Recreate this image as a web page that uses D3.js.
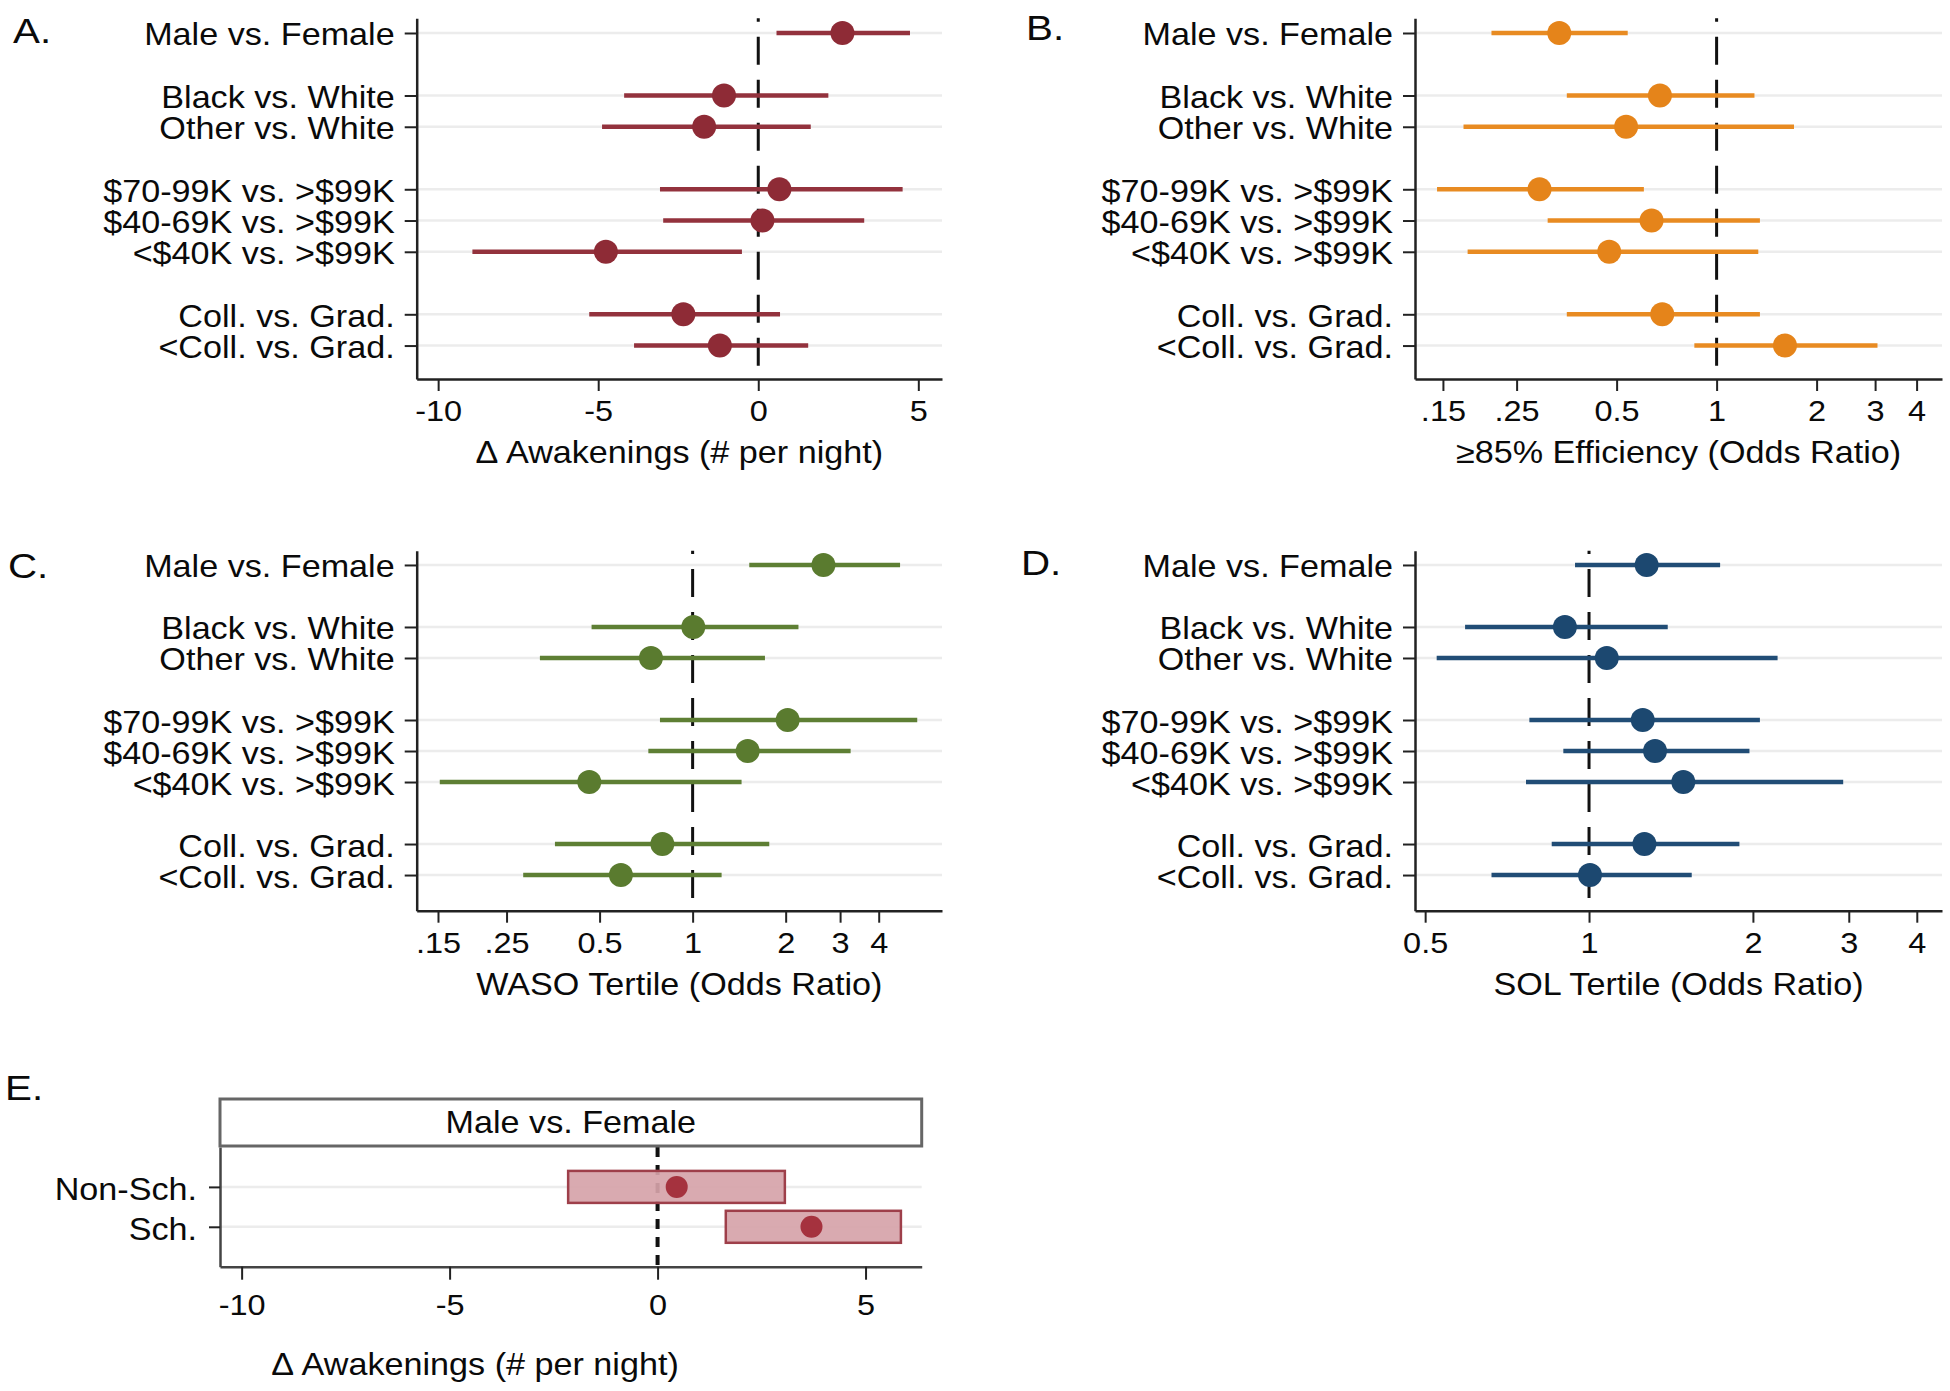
<!DOCTYPE html>
<html><head><meta charset="utf-8">
<script src="https://cdn.jsdelivr.net/npm/d3@7"></script>
<style>
body{margin:0;background:#fff}
svg{display:block;background:#fff}
text{font-family:"Liberation Sans",Arial,Helvetica,sans-serif;fill:#0a0a0a}
</style>
</head><body>
<svg id="c" width="1950" height="1391"></svg>
<script>
// ---------- data ----------
const categories = ["Male vs. Female","Black vs. White","Other vs. White",
  "$70-99K vs. >$99K","$40-69K vs. >$99K","<$40K vs. >$99K",
  "Coll. vs. Grad.","<Coll. vs. Grad."];
const groupIndex = [0,1,1,2,2,2,3,3];

const awakeEst = [2.63,-1.07,-1.69,0.66,0.13,-4.76,-2.34,-1.20];
const awakeLo  = [0.57,-4.19,-4.88,-3.07,-2.97,-8.93,-5.28,-3.88];
const awakeHi  = [4.74,2.19,1.64,4.51,3.31,-0.51,0.68,1.56];

const effEst = [0.336,0.675,0.534,0.293,0.637,0.475,0.686,1.606];
const effLo  = [0.210,0.354,0.173,0.144,0.310,0.178,0.354,0.857];
const effHi  = [0.540,1.30,1.71,0.604,1.35,1.335,1.35,3.05];

const wasoEst = [2.65,1.005,0.733,2.03,1.507,0.463,0.798,0.586];
const wasoLo  = [1.525,0.471,0.3205,0.784,0.719,0.152,0.3585,0.283];
const wasoHi  = [4.69,2.20,1.714,5.33,3.245,1.44,1.77,1.241];

const solEst = [1.276,0.903,1.078,1.255,1.322,1.49,1.264,1.004];
const solLo  = [0.9425,0.592,0.525,0.777,0.897,0.766,0.854,0.662];
const solHi  = [1.741,1.395,2.22,2.06,1.971,2.93,1.889,1.544];

const schCategories = ["Non-Sch.","Sch."];
const schEst = [0.46,3.70];
const schLo  = [-2.15,1.64];
const schHi  = [3.06,5.85];

const linTicks = [-10,-5,0,5];
const linTickLabels = ["-10","-5","0","5"];
const orTicksWide = [0.15,0.25,0.5,1,2,3,4];
const orTickLabelsWide = [".15",".25","0.5","1","2","3","4"];
const orTicksNarrow = [0.5,1,2,3,4];
const orTickLabelsNarrow = ["0.5","1","2","3","4"];

// ---------- drawing ----------
const svg = d3.select("#c");
const SX = 1.12;
const positions = categories.map((d,i)=> i + groupIndex[i]);

function label(g, x, y, s, size, anchor){
  return g.append("text")
    .attr("transform", `translate(${x},${y}) scale(${SX},1)`)
    .attr("text-anchor", anchor).attr("font-size", size).text(s);
}

function panel(o){
  const g = svg.append("g");
  const x = o.x, y = o.y;
  const [x0,x1] = x.range(), [y0,y1] = y.range();
  const rows = categories.map((c,i)=>({c, p:positions[i], est:o.est[i], lo:o.lo[i], hi:o.hi[i]}));

  g.selectAll("line.grid").data(rows).join("line").attr("class","grid")
    .attr("x1",x0).attr("x2",x1).attr("y1",d=>y(d.p)).attr("y2",d=>y(d.p))
    .attr("stroke","#ececec").attr("stroke-width",2.5);

  g.append("line").attr("x1",x(o.ref)).attr("x2",x(o.ref)).attr("y1",y0).attr("y2",y1)
    .attr("stroke","#111").attr("stroke-width",3)
    .attr("stroke-dasharray","28,15").attr("stroke-dashoffset",24.6);

  g.selectAll("line.ci").data(rows).join("line").attr("class","ci")
    .attr("x1",d=>x(d.lo)).attr("x2",d=>x(d.hi)).attr("y1",d=>y(d.p)).attr("y2",d=>y(d.p))
    .attr("stroke",o.line).attr("stroke-width",4.5);

  g.selectAll("circle").data(rows).join("circle")
    .attr("cx",d=>x(d.est)).attr("cy",d=>y(d.p)).attr("r",12).attr("fill",o.color);

  const xa = g.append("g").attr("transform",`translate(0,${y1})`)
    .call(d3.axisBottom(x).tickValues(o.ticks).tickFormat((d,i)=>o.tickLabels[i]).tickSize(12).tickSizeOuter(0));
  const ya = g.append("g").attr("transform",`translate(${x0},0)`)
    .call(d3.axisLeft(y).tickValues(positions).tickFormat((d,i)=>categories[i]).tickSize(12).tickSizeOuter(0));
  [xa,ya].forEach(a=>{
    a.select(".domain").attr("stroke","#222").attr("stroke-width",2.5);
    a.selectAll(".tick line").attr("stroke","#222").attr("stroke-width",2);
  });
  xa.selectAll(".tick text").attr("font-size",29).attr("y",42).attr("dy",null)
    .attr("transform",`scale(${SX},1)`).attr("fill","#0a0a0a");
  ya.selectAll(".tick text").attr("font-size",30.5).attr("x",-22/SX).attr("y",12).attr("dy",null)
    .attr("transform",`scale(${SX},1)`).attr("fill","#0a0a0a");
  ya.attr("font-family",null); xa.attr("font-family",null);

  label(g,(x0+x1)/2, y1+84, o.title, 30.5, "middle");
  label(g,o.letterX,o.letterY,o.letter,36,"start");
}

panel({
  x: d3.scaleLinear().domain([-10.67,5.74]).range([416.7,942]),
  y: d3.scaleLinear().domain([-0.47,11.07]).range([18.3,379]),
  est:awakeEst, lo:awakeLo, hi:awakeHi, ref:0,
  color:"#8e2b36", line:"#93323d",
  ticks:linTicks, tickLabels:linTickLabels,
  title:"\u0394 Awakenings (# per night)", letter:"A.", letterX:13, letterY:43
});
panel({
  x: d3.scaleLog().domain([0.1236,4.77]).range([1415,1942]),
  y: d3.scaleLinear().domain([-0.47,11.07]).range([18.3,379]),
  est:effEst, lo:effLo, hi:effHi, ref:1,
  color:"#e5841a", line:"#e88b22",
  ticks:orTicksWide, tickLabels:orTickLabelsWide,
  title:"\u226585% Efficiency (Odds Ratio)", letter:"B.", letterX:1026, letterY:40
});
panel({
  x: d3.scaleLog().domain([0.128,6.41]).range([416.7,942]),
  y: d3.scaleLinear().domain([-0.46,11.15]).range([550.7,910.7]),
  est:wasoEst, lo:wasoLo, hi:wasoHi, ref:1,
  color:"#5a7b2f", line:"#5e7f34",
  ticks:orTicksWide, tickLabels:orTickLabelsWide,
  title:"WASO Tertile (Odds Ratio)", letter:"C.", letterX:8, letterY:578
});
panel({
  x: d3.scaleLog().domain([0.479,4.45]).range([1415,1942]),
  y: d3.scaleLinear().domain([-0.46,11.15]).range([550.7,910.7]),
  est:solEst, lo:solLo, hi:solHi, ref:1,
  color:"#1c4870", line:"#214d76",
  ticks:orTicksNarrow, tickLabels:orTickLabelsNarrow,
  title:"SOL Tertile (Odds Ratio)", letter:"D.", letterX:1021, letterY:575
});

// ---------- panel E ----------
(function(){
  const g = svg.append("g");
  const x = d3.scaleLinear().domain([-10.52,6.35]).range([220,921.7]);
  const y = d3.scaleLinear().domain([0,3]).range([1147,1266.7]);
  const [x0,x1] = x.range(), [y0,y1] = y.range();
  const rows = schCategories.map((c,i)=>({c, p:i+1, est:schEst[i], lo:schLo[i], hi:schHi[i]}));

  g.selectAll("line.grid").data(rows).join("line")
    .attr("x1",x0).attr("x2",x1).attr("y1",d=>y(d.p)).attr("y2",d=>y(d.p))
    .attr("stroke","#ececec").attr("stroke-width",2.5);

  g.append("line").attr("x1",x(0)).attr("x2",x(0)).attr("y1",y0).attr("y2",y1)
    .attr("stroke","#111").attr("stroke-width",4).attr("stroke-dasharray","10,8");

  g.selectAll("rect.ci").data(rows).join("rect")
    .attr("x",d=>x(d.lo)).attr("width",d=>x(d.hi)-x(d.lo))
    .attr("y",d=>y(d.p)-16).attr("height",32)
    .attr("fill","#d6a3a9").attr("fill-opacity",0.92).attr("stroke","#9e3f4a").attr("stroke-width",2.5);

  g.selectAll("circle").data(rows).join("circle")
    .attr("cx",d=>x(d.est)).attr("cy",d=>y(d.p)).attr("r",11).attr("fill","#a5323e");

  const xa = g.append("g").attr("transform",`translate(0,${y1})`)
    .call(d3.axisBottom(x).tickValues(linTicks).tickFormat((d,i)=>linTickLabels[i]).tickSize(13).tickSizeOuter(0));
  const ya = g.append("g").attr("transform",`translate(${x0},0)`)
    .call(d3.axisLeft(y).tickValues(rows.map(d=>d.p)).tickFormat((d,i)=>schCategories[i]).tickSize(11).tickSizeOuter(0));
  [xa,ya].forEach(a=>{
    a.select(".domain").attr("stroke","#444").attr("stroke-width",2.5);
    a.selectAll(".tick line").attr("stroke","#222").attr("stroke-width",2);
  });
  xa.selectAll(".tick text").attr("font-size",29).attr("y",48).attr("dy",null)
    .attr("transform",`scale(${SX},1)`).attr("fill","#0a0a0a");
  ya.selectAll(".tick text").attr("font-size",30.5).attr("x",-23/SX).attr("y",12.5).attr("dy",null)
    .attr("transform",`scale(${SX},1)`).attr("fill","#0a0a0a");

  // strip header
  g.append("rect").attr("x",x0).attr("y",1099).attr("width",x1-x0).attr("height",47)
    .attr("fill","#fff").attr("stroke","#666").attr("stroke-width",3);
  label(g,(x0+x1)/2,1133,"Male vs. Female",30.5,"middle");

  label(g,475,1375,"\u0394 Awakenings (# per night)",30.5,"middle");
  label(g,5,1100,"E.",36,"start");
})();
</script>
</body></html>
